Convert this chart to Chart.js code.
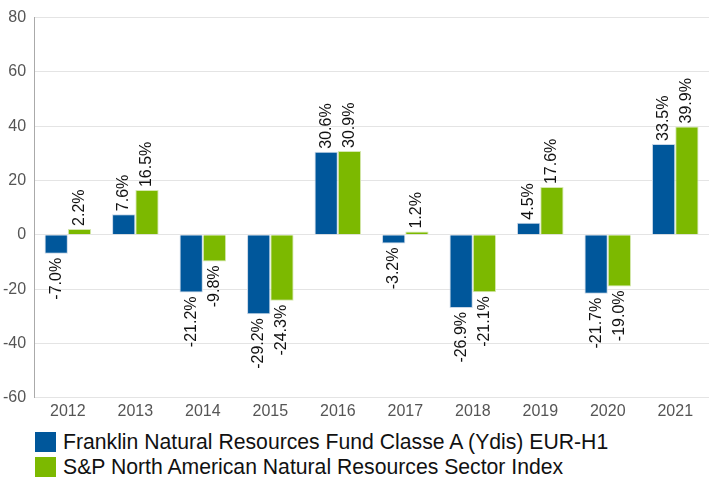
<!DOCTYPE html>
<html lang="en">
<head>
  <meta charset="UTF-8">
  <title>Natural Resources Fund</title>
  <style>
    body { margin: 0; padding: 0; background: #fff; font-family: Arial, "Liberation Sans", sans-serif; }
    .chart-box { width: 709px; height: 425px; position: relative; }
    .legend { position: absolute; left: 35px; top: 432px; }
    .legend-row { display: flex; align-items: center; height: 20px; margin-bottom: 5px; }
    .legend-row span.box { width: 21px; height: 20px; margin-right: 7px; }
    .legend-row span.txt { font-size: 21.2px; color: #111; line-height: 20px; white-space: nowrap; }
  </style>
</head>
<body>
  <div class="chart-box"><canvas id="perf-chart"></canvas></div>
  <div class="legend" id="legend"></div>

  <script src="https://cdn.jsdelivr.net/npm/chart.js"></script>
  <script>
    // Data
    const years = ['2012', '2013', '2014', '2015', '2016', '2017', '2018', '2019', '2020', '2021'];
    const fundReturns = [-7.0, 7.6, -21.2, -29.2, 30.6, -3.2, -26.9, 4.5, -21.7, 33.5];
    const indexReturns = [2.2, 16.5, -9.8, -24.3, 30.9, 1.2, -21.1, 17.6, -19.0, 39.9];
    const seriesNames = [
      'Franklin Natural Resources Fund Classe A (Ydis) EUR-H1',
      'S&P North American Natural Resources Sector Index'
    ];
    const seriesColors = ['#00579b', '#7cb900'];

    // rotated value labels above/below each bar
    const barLabels = {
      id: 'barLabels',
      afterDatasetsDraw(chart) {
        const ctx = chart.ctx;
        ctx.save();
        ctx.font = '16px Arial, "Liberation Sans", sans-serif';
        ctx.fillStyle = '#111';
        ctx.textBaseline = 'middle';
        chart.data.datasets.forEach((ds, i) => {
          chart.getDatasetMeta(i).data.forEach((bar, j) => {
            const v = ds.data[j];
            const txt = v.toFixed(1) + '%';
            ctx.save();
            if (v >= 0) {
              ctx.translate(bar.x, bar.y - 3);
              ctx.rotate(-Math.PI / 2);
              ctx.textAlign = 'left';
            } else {
              ctx.translate(bar.x, bar.y + 4);
              ctx.rotate(-Math.PI / 2);
              ctx.textAlign = 'right';
            }
            ctx.fillText(txt, 0, 0);
            ctx.restore();
          });
        });
        ctx.restore();
      }
    };

    const ctx = document.getElementById('perf-chart').getContext('2d');
    new Chart(ctx, {
      type: 'bar',
      data: {
        labels: years,
        datasets: [
          {
            label: seriesNames[0],
            data: fundReturns,
            backgroundColor: seriesColors[0],
            borderColor: '#c8d6e6',
            borderWidth: 1,
            categoryPercentage: 0.69,
            barPercentage: 1.0
          },
          {
            label: seriesNames[1],
            data: indexReturns,
            backgroundColor: seriesColors[1],
            borderColor: '#d6e8b0',
            borderWidth: 1,
            categoryPercentage: 0.69,
            barPercentage: 1.0
          }
        ]
      },
      options: {
        responsive: true,
        maintainAspectRatio: false,
        animation: false,
        layout: { padding: { top: 13, right: -7, left: -5, bottom: 0 } },
        plugins: {
          tooltip: { enabled: false },
          legend: { display: false }
        },
        scales: {
          x: {
            grid: { display: false, drawTicks: false },
            border: { display: false },
            ticks: {
              padding: 4,
              color: '#555',
              font: { size: 16, family: 'Arial, "Liberation Sans", sans-serif' }
            }
          },
          y: {
            min: -60,
            max: 80,
            ticks: {
              stepSize: 20,
              padding: 8,
              color: '#555',
              font: { size: 16, family: 'Arial, "Liberation Sans", sans-serif' }
            },
            grid: { color: '#e4e4e4', drawTicks: false },
            border: { color: '#aaa' }
          }
        }
      },
      plugins: [barLabels]
    });

    // legend as plain HTML below the canvas
    const legendEl = document.getElementById('legend');
    seriesNames.forEach((name, i) => {
      const row = document.createElement('div');
      row.className = 'legend-row';
      const box = document.createElement('span');
      box.className = 'box';
      box.style.background = seriesColors[i];
      const txt = document.createElement('span');
      txt.className = 'txt';
      txt.textContent = name;
      row.appendChild(box);
      row.appendChild(txt);
      legendEl.appendChild(row);
    });
  </script>
</body>
</html>
